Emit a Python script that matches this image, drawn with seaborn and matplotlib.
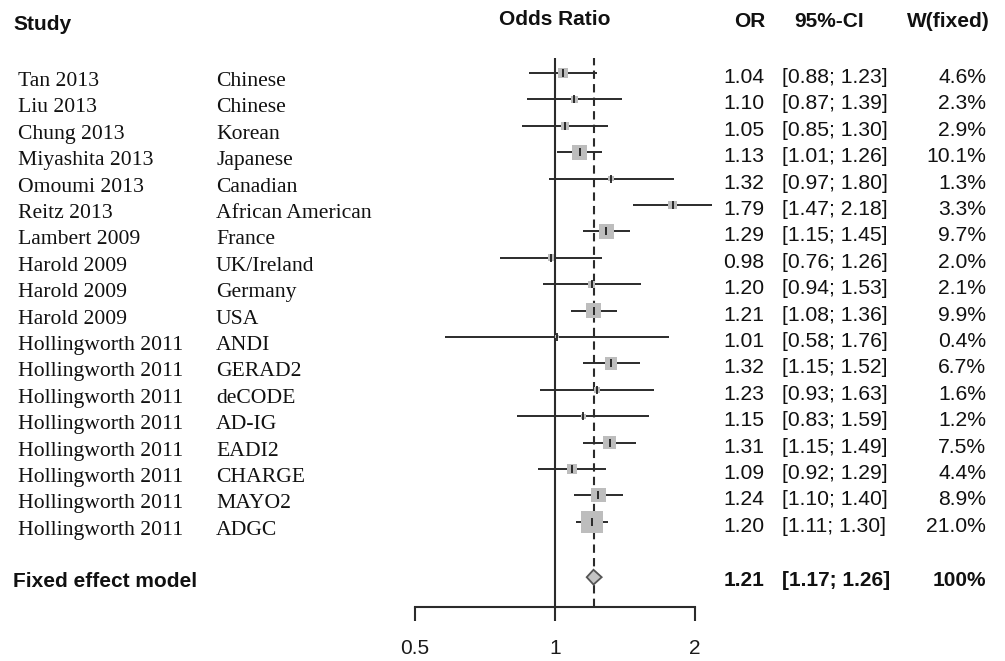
import matplotlib
matplotlib.use("Agg")
import matplotlib.pyplot as plt
import matplotlib.transforms as mtransforms
import seaborn as sns
import pandas as pd
import numpy as np

studies = ["Tan 2013", "Liu 2013", "Chung 2013", "Miyashita 2013", "Omoumi 2013",
           "Reitz 2013", "Lambert 2009", "Harold 2009", "Harold 2009", "Harold 2009",
           "Hollingworth 2011", "Hollingworth 2011", "Hollingworth 2011", "Hollingworth 2011",
           "Hollingworth 2011", "Hollingworth 2011", "Hollingworth 2011", "Hollingworth 2011"]
populations = ["Chinese", "Chinese", "Korean", "Japanese", "Canadian", "African American",
               "France", "UK/Ireland", "Germany", "USA", "ANDI", "GERAD2", "deCODE",
               "AD-IG", "EADI2", "CHARGE", "MAYO2", "ADGC"]
odds_ratio = [1.04, 1.10, 1.05, 1.13, 1.32, 1.79, 1.29, 0.98, 1.20, 1.21,
              1.01, 1.32, 1.23, 1.15, 1.31, 1.09, 1.24, 1.20]
ci_low = [0.88, 0.87, 0.85, 1.01, 0.97, 1.47, 1.15, 0.76, 0.94, 1.08,
          0.58, 1.15, 0.93, 0.83, 1.15, 0.92, 1.10, 1.11]
ci_high = [1.23, 1.39, 1.30, 1.26, 1.80, 2.18, 1.45, 1.26, 1.53, 1.36,
           1.76, 1.52, 1.63, 1.59, 1.49, 1.29, 1.40, 1.30]
weights = [4.6, 2.3, 2.9, 10.1, 1.3, 3.3, 9.7, 2.0, 2.1, 9.9,
           0.4, 6.7, 1.6, 1.2, 7.5, 4.4, 8.9, 21.0]

fixed_label = "Fixed effect model"
fixed_or = 1.21
fixed_low = 1.17
fixed_high = 1.26
fixed_weight_text = "100%"

x_ticks = [0.5, 1, 2]
x_tick_labels = ["0.5", "1", "2"]

rows = list(range(len(studies)))
fixed_row = 19.1

df = pd.DataFrame({"study": studies, "pop": populations, "OR": odds_ratio,
                   "lo": ci_low, "hi": ci_high, "w": weights, "row": rows})

sns.set_theme(style="white")
plt.rcParams["font.family"] = ["Liberation Sans", "DejaVu Sans"]

W, H = 1005, 661
fig = plt.figure(figsize=(W / 100, H / 100), dpi=100)
ax = fig.add_axes([415 / W, (H - 607) / H, 280 / W, (607 - 58) / H])

line_col = "#2b2b2b"
ax.set_xscale("log", base=2)
ax.set_xlim(0.5, 2)
ax.set_ylim(20.23, -0.568)

# reference lines
ax.axvline(1, color=line_col, lw=1.5, zorder=1)
ax.axvline(fixed_or, color=line_col, lw=1.5, ls=(0, (4, 2.5)), zorder=1)

# CI lines
ax.hlines(df["row"], df["lo"], df["hi"], color=line_col, lw=1.4, zorder=2, clip_on=False)

# weight squares
sns.scatterplot(data=df, x="OR", y="row", size="w", sizes=(11.9 * min(weights), 11.9 * max(weights)),
                size_norm=(min(weights), max(weights)), marker="s", color="#bdbdbd",
                linewidth=0, legend=False, ax=ax, zorder=3, clip_on=False)
# point estimates
ax.scatter(df["OR"], df["row"], marker="|", s=36, color="#111111", linewidths=1.2, zorder=4, clip_on=False)

# diamond
ax.fill([fixed_low, fixed_or, fixed_high, fixed_or],
        [fixed_row, fixed_row - 0.28, fixed_row, fixed_row + 0.28],
        facecolor="#c4c4c4", edgecolor="#555555", lw=1.3, zorder=3)

# axes styling
for s in ["left", "right", "top"]:
    ax.spines[s].set_visible(False)
ax.spines["bottom"].set_color(line_col)
ax.spines["bottom"].set_linewidth(1.5)
ax.set_yticks([])
ax.set_xticks(x_ticks)
ax.set_xticklabels(x_tick_labels)
ax.minorticks_off()
ax.tick_params(axis="x", direction="out", length=10, width=1.5, color=line_col,
               pad=13, labelsize=15, labelcolor="#1a1a1a", bottom=True)
ax.set_xlabel("")
ax.set_ylabel("")

txt_col = "#111111"
blend = mtransforms.blended_transform_factory(fig.transFigure, ax.transData)


def row_text(px, row, s, dy, **kw):
    tr = blend + mtransforms.ScaledTranslation(0, -dy / 100, fig.dpi_scale_trans)
    ax.text(px / W, row, s, transform=tr, va="baseline", color=txt_col, clip_on=False, **kw)


serif = ["Liberation Serif", "DejaVu Serif"]
for r, st, pop, o, l, h, w in zip(rows, studies, populations, odds_ratio, ci_low, ci_high, weights):
    row_text(18, r, st, 13, ha="left", fontsize=15.6, family=serif)
    row_text(216, r, pop, 13, ha="left", fontsize=15.6, family=serif)
    row_text(764, r, f"{o:.2f}", 10, ha="right", fontsize=15.2)
    row_text(782, r, f"[{l:.2f}; {h:.2f}]", 10, ha="left", fontsize=15.2)
    row_text(986, r, f"{w:.1f}%", 10, ha="right", fontsize=15.2)

row_text(13, fixed_row, fixed_label, 10, ha="left", fontsize=15, fontweight="bold")
row_text(764, fixed_row, f"{fixed_or:.2f}", 9, ha="right", fontsize=15, fontweight="bold")
row_text(782, fixed_row, f"[{fixed_low:.2f}; {fixed_high:.2f}]", 9, ha="left", fontsize=15, fontweight="bold")
row_text(986, fixed_row, fixed_weight_text, 9, ha="right", fontsize=15, fontweight="bold")

# headers
def head(px, py, s, ha):
    fig.text(px / W, 1 - py / H, s, ha=ha, va="baseline", fontsize=15, fontweight="bold", color=txt_col)

head(13, 30, "Study", "left")
head(555, 25, "Odds Ratio", "center")
head(765, 27, "OR", "right")
head(829, 27, "95%-CI", "center")
head(990, 27, "W(fixed)", "right")

fig.savefig("out.png", dpi=100, facecolor="white")
